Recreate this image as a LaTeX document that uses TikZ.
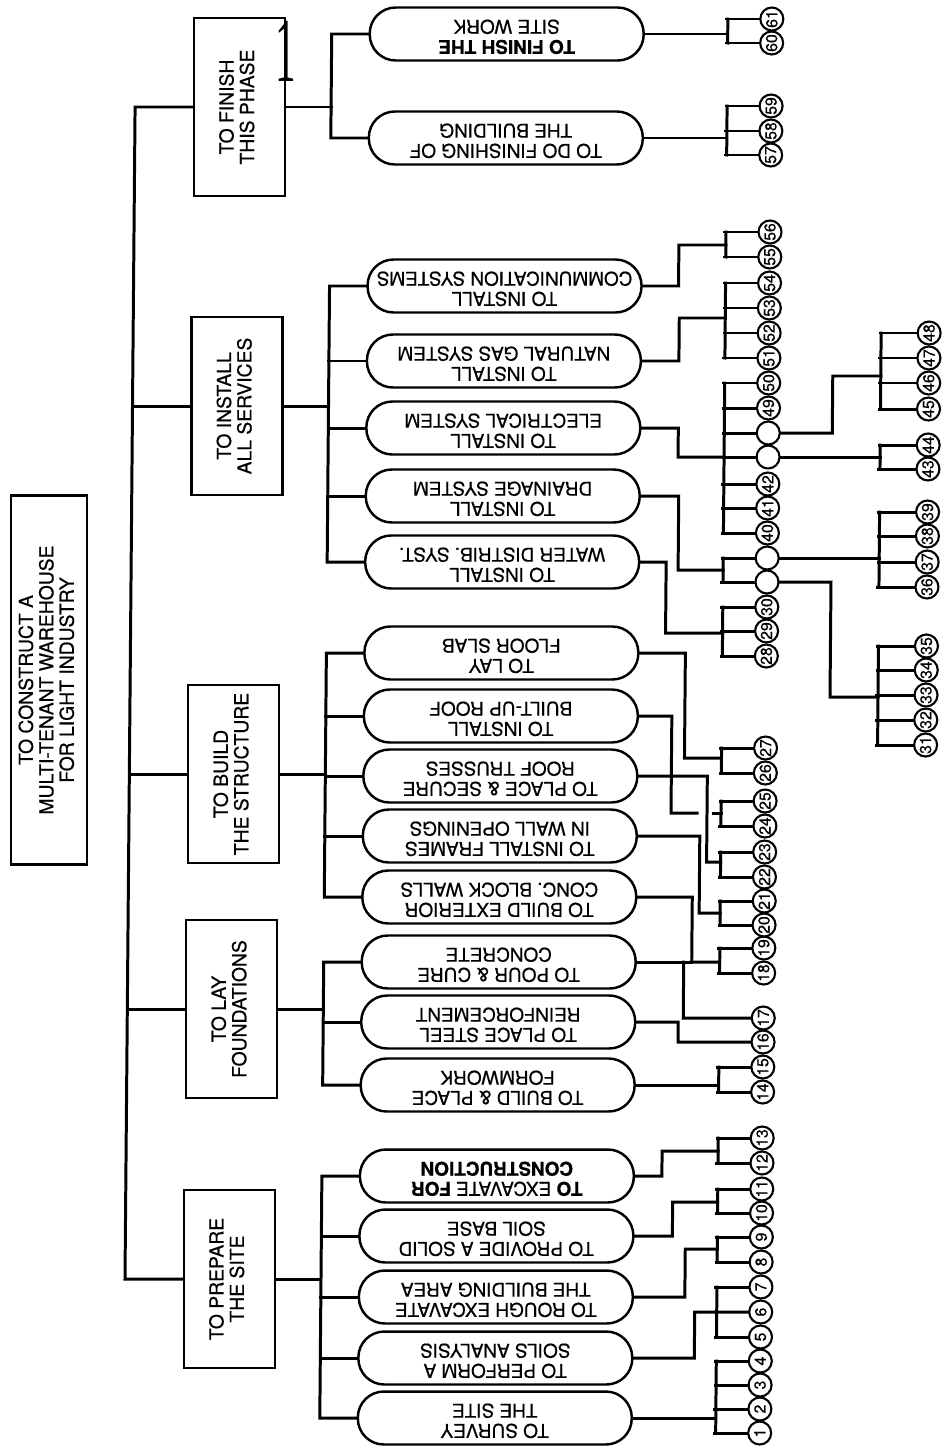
\documentclass[tikz,border=0pt]{standalone}
\usepackage{graphicx}
\usepackage{fontspec}
\setmainfont{TeX Gyre Heros}[FakeBold=0.5]
\newfontfamily\oneserif{Liberation Serif}
\newcommand{\ud}[2]{\rotatebox{180}{\fontsize{10.8}{11.4}\selectfont\begin{tabular}{@{}c@{}}#1\\#2\end{tabular}}}
\newcommand{\sdw}[1]{\rotatebox{90}{\fontsize{11}{11.4}\selectfont\begin{tabular}{@{}c@{}}#1\end{tabular}}}
\begin{document}
\begin{tikzpicture}[x=0.02cm,y=-0.02cm,
  conn/.style={line width=1.7pt,line cap=rect},
  pill/.style={draw,line width=1.4pt,rounded corners=0.52cm,minimum width=5.48cm,minimum height=1.06cm,inner sep=0pt},
  lvbox/.style={draw,line width=1.3pt,minimum width=1.82cm,minimum height=3.56cm,inner sep=0pt},
  num/.style={circle,draw,line width=1.2pt,minimum size=0.46cm,inner sep=0pt,fill=white,font=\fontsize{9}{9}\selectfont}]
\useasboundingbox (0,0) rectangle (946,1447);
\fill[white] (0,0) rectangle (946,1447);
\begin{scope}[xslant=0.0086]
% root and level-1 boxes
\node[draw,line width=1.3pt,minimum width=1.52cm,minimum height=7.38cm,inner sep=0pt] (root) at (55,680) {\sdw{TO CONSTRUCT A\\MULTI-TENANT WAREHOUSE\\FOR LIGHT INDUSTRY}};
\node[lvbox] (boxF) at (240.5,107) {\sdw{TO FINISH\\THIS PHASE}};
\node[lvbox] (boxS) at (240.5,406) {\sdw{TO INSTALL\\ALL SERVICES}};
\node[lvbox] (boxB) at (240.5,774) {\sdw{TO BUILD\\THE STRUCTURE}};
\node[lvbox] (boxL) at (240.5,1009) {\sdw{TO LAY\\FOUNDATIONS}};
\node[lvbox] (boxP) at (240.5,1279) {\sdw{TO PREPARE\\THE SITE}};
\node[inner sep=0pt] (one) at (286,51) {\oneserif\fontsize{52}{52}\selectfont\scalebox{0.45}[1]{1}};
% pills
\node[pill] (p1) at (507,34) {\ud{\textbf{TO FINISH THE}}{SITE WORK}};
\node[pill] (p2) at (507,138) {\ud{TO DO FINISHING OF}{THE BUILDING}};
\node[pill] (p3) at (507,286) {\ud{TO INSTALL}{COMMUNICATION SYSTEMS}};
\node[pill] (p4) at (507,361) {\ud{TO INSTALL}{NATURAL GAS SYSTEM}};
\node[pill] (p5) at (507,428) {\ud{TO INSTALL}{ELECTRICAL SYSTEM}};
\node[pill] (p6) at (507,496) {\ud{TO INSTALL}{DRAINAGE SYSTEM}};
\node[pill] (p7) at (507,562) {\ud{TO INSTALL}{WATER DISTRIB. SYST.}};
\node[pill] (p8) at (507,653) {\ud{TO LAY}{FLOOR SLAB}};
\node[pill] (p9) at (507,716) {\ud{TO INSTALL}{BUILT-UP ROOF}};
\node[pill] (p10) at (507,776) {\ud{TO PLACE \& SECURE}{ROOF TRUSSES}};
\node[pill] (p11) at (507,836) {\ud{TO INSTALL FRAMES}{IN WALL OPENINGS}};
\node[pill] (p12) at (507,897) {\ud{TO BUILD EXTERIOR}{CONC. BLOCK WALLS}};
\node[pill] (p13) at (507,962) {\ud{TO POUR \& CURE}{CONCRETE}};
\node[pill] (p14) at (507,1022) {\ud{TO PLACE STEEL}{REINFORCEMENT}};
\node[pill] (p15) at (507,1085) {\ud{TO BUILD \& PLACE}{FORMWORK}};
\node[pill] (p16) at (507,1176) {\ud{\textbf{TO} EXCAVATE \textbf{FOR}}{\textbf{CONSTRUCTION}}};
\node[pill] (p17) at (507,1236) {\ud{TO PROVIDE A SOLID}{SOIL BASE}};
\node[pill] (p18) at (507,1297) {\ud{TO ROUGH EXCAVATE}{THE BUILDING AREA}};
\node[pill] (p19) at (507,1358) {\ud{TO PERFORM A}{SOILS ANALYSIS}};
\node[pill] (p20) at (507,1418) {\ud{TO SURVEY}{THE SITE}};
% numbered circles, main column
\foreach \n/\y in {1/1433,2/1409,3/1385,4/1361,5/1337,6/1312,7/1287,8/1262,9/1237,10/1213,11/1189,12/1163,13/1138,14/1092,15/1067,16/1042,17/1018,18/973,19/948,20/925,21/901,22/877,23/852,24/826,25/801,26/773,27/748,28/656,29/631,30/607,40/533,41/508,42/484,49/408,50/383,51/358,52/333,53/308,54/283,55/257,56/232,57/155,58/131,59/106,60/43,61/19}
  \node[num] (n\n) at (772,\y) {\rotatebox{90}{\n}};
\foreach \n/\y in {A/433,B/457,C/558,D/582}
  \node[num] (e\n) at (772,\y) {};
% second column
\foreach \n/\y in {31/745,32/720,33/695,34/670,35/646,36/587,37/562,38/536,39/512,43/469,44/445,45/409,46/383,47/358,48/333}
  \node[num] (n\n) at (932,\y) {\rotatebox{90}{\n}};
% level 1 connectors
\draw[conn] (boxF.west) -- (136,107) -- (136,1279) -- (boxP.west);
\draw[conn] (boxS.west) -- (136,406);
\draw[conn] (boxB.west) -- (136,774);
\draw[conn] (boxL.west) -- (136,1009);
% buses
\draw[conn] (p1.west) -- (332,34) -- (332,138) -- (p2.west);
\draw[conn] (boxF.east) -- (332,107);
\draw[conn] (p3.west) -- (332,286) -- (332,562) -- (p7.west);
\draw[conn] (p4.west) -- (332,361);
\draw[conn] (p5.west) -- (332,428);
\draw[conn] (p6.west) -- (332,496);
\draw[conn] (boxS.east) -- (332,406);
\draw[conn] (p8.west) -- (332,653) -- (332,897) -- (p12.west);
\draw[conn] (p9.west) -- (332,716);
\draw[conn] (p10.west) -- (332,776);
\draw[conn] (p11.west) -- (332,836);
\draw[conn] (boxB.east) -- (332,774);
\draw[conn] (p13.west) -- (332,962) -- (332,1085) -- (p15.west);
\draw[conn] (p14.west) -- (332,1022);
\draw[conn] (boxL.east) -- (332,1009);
\draw[conn] (p16.west) -- (332,1176) -- (332,1418) -- (p20.west);
\draw[conn] (p17.west) -- (332,1236);
\draw[conn] (p18.west) -- (332,1297);
\draw[conn] (p19.west) -- (332,1358);
\draw[conn] (boxP.east) -- (332,1279);
% branches to main column circles
\foreach \n in {1,...,30,40,41,42,49,50,51,52,53,54,55,56,57,58,59,60,61}
  {\ifnum\n=6\else\ifnum\n=16\else\ifnum\n=17\else\draw[conn] (n\n.west) -- ++(-32.5,0);\fi\fi\fi}
\foreach \n in {A,B,C,D} \draw[conn] (e\n.west) -- ++(-32.5,0);
\foreach \n in {31,...,39,43,44,45,46,47,48} \draw[conn] (n\n.west) -- ++(-36.5,0);
% finish
\draw[conn] (p1.east) -- (728,34);
\draw[conn] (728,19) -- (728,43);
\draw[conn] (p2.east) -- (728,138);
\draw[conn] (728,106) -- (728,155);
% services
\draw[conn] (p3.east) -- (681,286) -- (681,245) -- (728,245);
\draw[conn] (728,232) -- (728,257);
\draw[conn] (p4.east) -- (682,361) -- (682,318) -- (728,318);
\draw[conn] (728,283) -- (728,358);
\draw[conn] (p5.east) -- (682,428) -- (682,457) -- (728,457);
\draw[conn] (728,383) -- (728,533);
\draw[conn] (p6.east) -- (683,496) -- (683,570) -- (728,570);
\draw[conn] (728,558) -- (728,582);
\draw[conn] (p7.east) -- (671,562) -- (671,633) -- (728,633);
\draw[conn] (728,607) -- (728,656);
% structure
\draw[conn] (p8.east) -- (691,653) -- (691,758) -- (728,758);
\draw[conn] (728,748) -- (728,773);
\draw[conn] (p9.east) -- (678,716) -- (678,813) -- (704,813);
\draw[conn] (720,813) -- (728,813);
\draw[conn] (728,801) -- (728,826);
\draw[conn] (p10.east) -- (714,776) -- (714,862) -- (728,862);
\draw[conn] (728,852) -- (728,877);
\draw[conn] (p11.east) -- (707,836) -- (707,913) -- (728,913);
\draw[conn] (728,901) -- (728,925);
\draw[conn] (p12.east) -- (700,897) -- (700,962) -- (728,962);
\draw[conn] (728,948) -- (728,973);
% foundations
\draw[conn] (p13.east) -- (700,962);
\draw[conn] (692,962) -- (692,1018) -- (n17.west);
\draw[conn] (p14.east) -- (687,1022) -- (687,1042) -- (n16.west);
\draw[conn] (p15.east) -- (728,1085);
\draw[conn] (728,1067) -- (728,1092);
% prepare
\draw[conn] (p16.east) -- (672,1176) -- (672,1151) -- (728,1151);
\draw[conn] (728,1138) -- (728,1163);
\draw[conn] (p17.east) -- (683,1236) -- (683,1202) -- (728,1202);
\draw[conn] (728,1189) -- (728,1213);
\draw[conn] (p18.east) -- (696,1297) -- (696,1249) -- (728,1249);
\draw[conn] (728,1237) -- (728,1262);
\draw[conn] (p19.east) -- (706,1358) -- (706,1312) -- (n6.west);
\draw[conn] (728,1287) -- (728,1337);
\draw[conn] (p20.east) -- (728,1418);
\draw[conn] (728,1361) -- (728,1433);
% second level
\draw[conn] (eA.east) -- (836,433) -- (836,376) -- (884,376);
\draw[conn] (884,333) -- (884,409);
\draw[conn] (eB.east) -- (884,457);
\draw[conn] (884,445) -- (884,469);
\draw[conn] (eC.east) -- (884,558);
\draw[conn] (884,512) -- (884,587);
\draw[conn] (eD.east) -- (836,582) -- (836,697) -- (884,697);
\draw[conn] (884,646) -- (884,745);
\end{scope}
\end{tikzpicture}
\end{document}
